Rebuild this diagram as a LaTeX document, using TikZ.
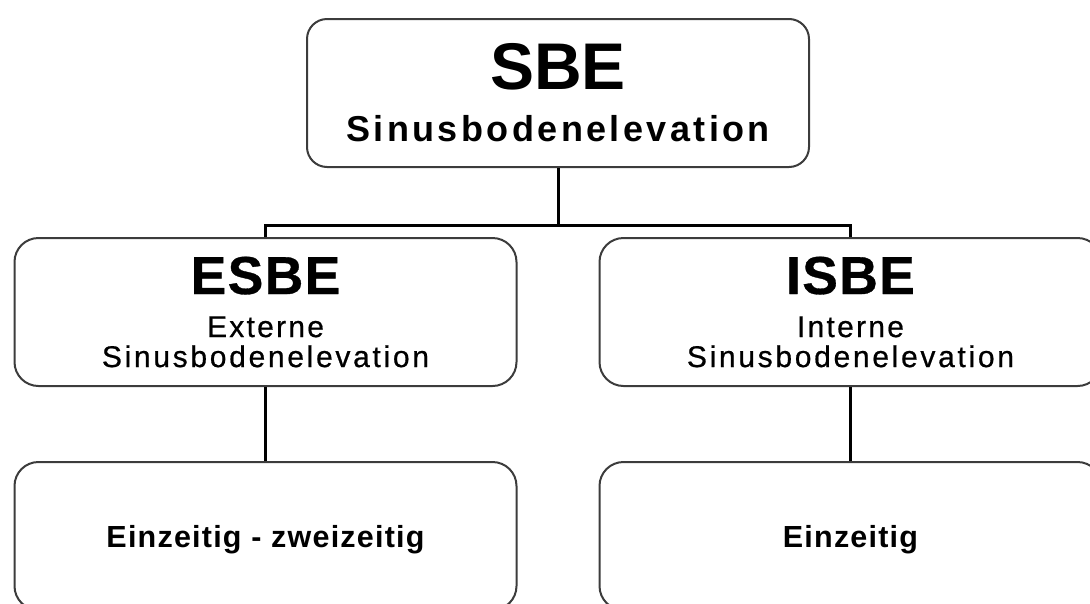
\documentclass[tikz,border=0pt]{standalone}
\usepackage{fontspec}
\setmainfont{Liberation Sans}
\definecolor{boxgray}{HTML}{3C3C3C}

\tikzset{
  box/.style={draw=boxgray, line width=2pt, rounded corners=24pt,
    minimum width=502pt, minimum height=148pt, inner sep=0pt, align=center},
  link/.style={line width=3pt, line join=miter}
}

\begin{document}
\begin{tikzpicture}[x=1pt,y=-1pt]
\useasboundingbox (0,0) rectangle (1090,603);
\coordinate (bar) at (0,225);

% top
\node[box, rounded corners=20pt, font=\fontsize{36}{52}\selectfont\bfseries] (sbe) at (558,93)
  {{\fontsize{66}{66}\selectfont SBE}\\{\addfontfeature{LetterSpace=9.5}Sinusbodenelevation}};

% middle row
\node[box, font=\fontsize{30}{30}\selectfont\addfontfeature{FakeBold=0.6}] (esbe) at (265.5,312)
  {{\fontsize{53.5}{53}\selectfont\bfseries\addfontfeature{LetterSpace=2.5}ESBE}\\[13pt]
   {\addfontfeature{LetterSpace=7.5}Externe}\\
   {\addfontfeature{LetterSpace=9}Sinusbodenelevation}};
\node[box, font=\fontsize{30}{30}\selectfont\addfontfeature{FakeBold=0.6}] (isbe) at (850.5,312)
  {{\fontsize{53.5}{53}\selectfont\bfseries\addfontfeature{LetterSpace=2.5}ISBE}\\[13pt]
   {\addfontfeature{LetterSpace=7.5}Interne}\\
   {\addfontfeature{LetterSpace=9}Sinusbodenelevation}};

% bottom row
\node[box, text depth=0pt, font=\fontsize{30.5}{30}\selectfont\bfseries\addfontfeature{LetterSpace=4}] (esbe1) at (265.5,536)
  {Einzeitig - zweizeitig};
\node[box, text depth=0pt, font=\fontsize{30.5}{30}\selectfont\bfseries\addfontfeature{LetterSpace=4}] (isbe1) at (850.5,536)
  {Einzeitig};

% connectors
\draw[link] (sbe.south) -- (sbe.south |- bar);
\draw[link] (esbe.north) |- (bar -| isbe.north) -- (isbe.north);
\draw[link] (esbe.south) -- (esbe1.north);
\draw[link] (isbe.south) -- (isbe1.north);
\end{tikzpicture}
\end{document}
